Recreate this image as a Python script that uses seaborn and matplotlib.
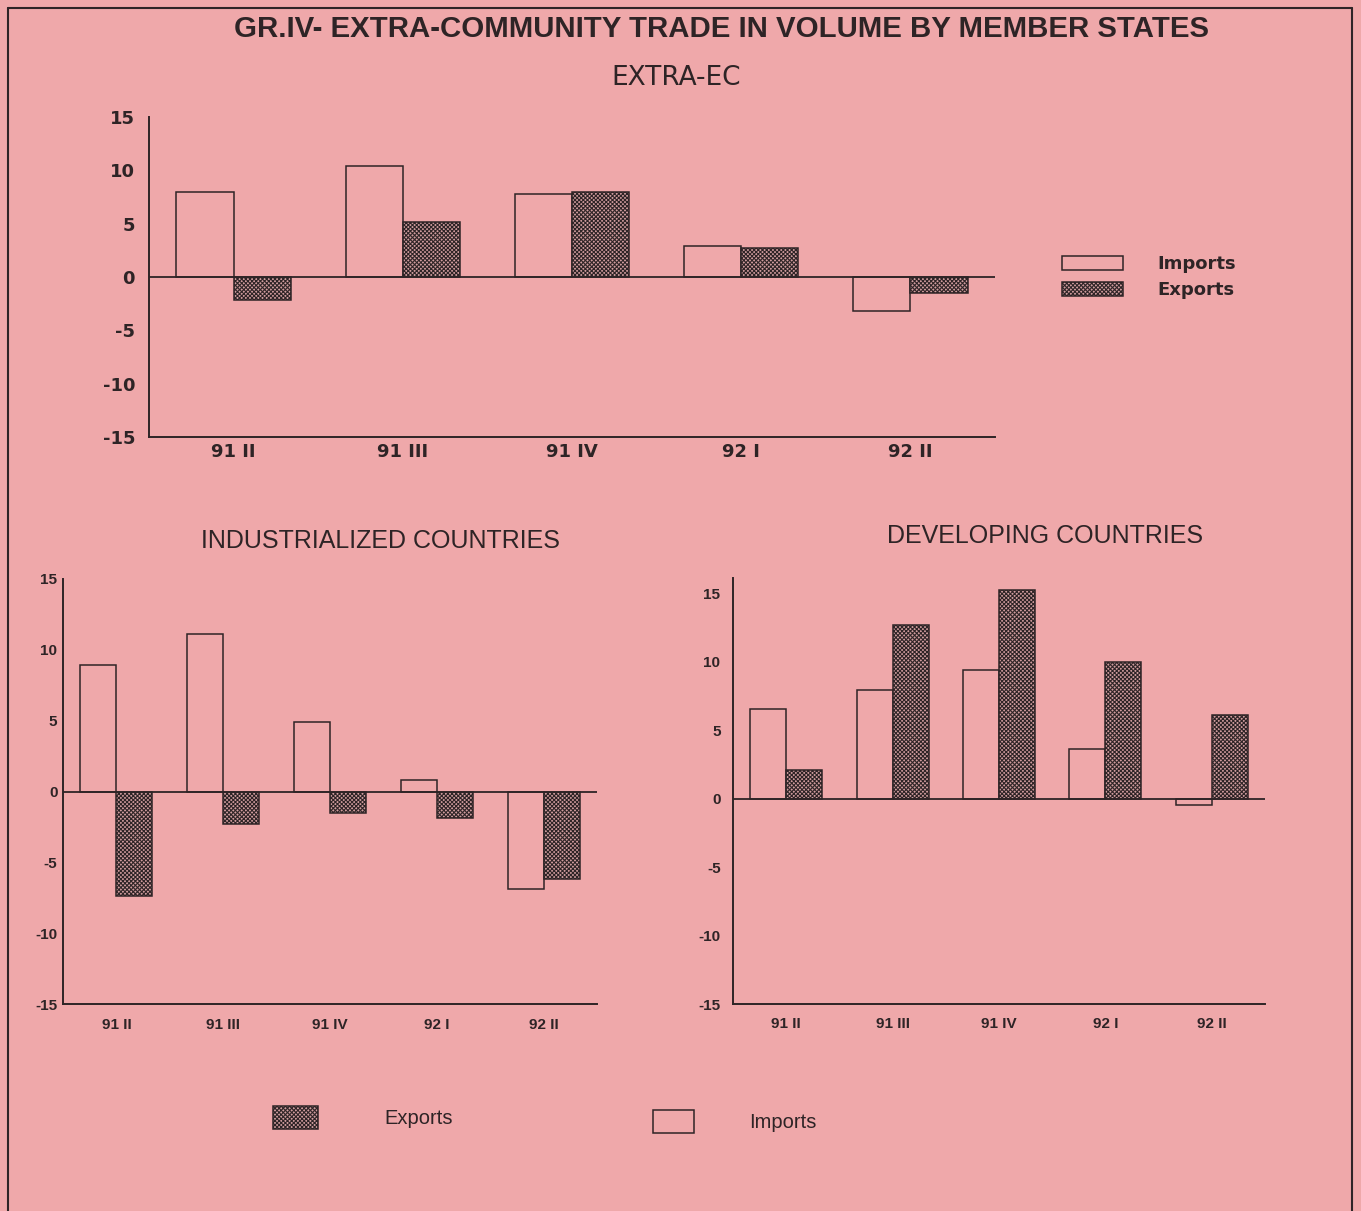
import numpy as np
import pandas as pd
import seaborn as sns
import matplotlib
matplotlib.use("Agg")
import matplotlib.pyplot as plt
from matplotlib.patches import Patch
from matplotlib.lines import Line2D

# ---------------- data ----------------
quarters = ['91 II', '91 III', '91 IV', '92 I', '92 II']
ec_imports = [8.0, 10.4, 7.8, 2.9, -3.2]
ec_exports = [-2.2, 5.2, 8.0, 2.7, -1.5]
ind_imports = [8.9, 11.1, 4.9, 0.8, -6.9]
ind_exports = [-7.4, -2.3, -1.5, -1.9, -6.2]
dev_imports = [6.5, 7.9, 9.4, 3.6, -0.5]
dev_exports = [2.1, 12.7, 15.2, 10.0, 6.1]
ytick_values = [-15, -10, -5, 0, 5, 10, 15]
series_names = ['Imports', 'Exports']

title_text = 'GR.IV- EXTRA-COMMUNITY TRADE IN VOLUME BY MEMBER STATES'
top_subtitle = 'EXTRA-EC'
left_subtitle = 'INDUSTRIALIZED COUNTRIES'
right_subtitle = 'DEVELOPING COUNTRIES'

# ---------------- style ----------------
sns.set_theme(style='white')
BG = '#efa8aa'
INK = '#2e2426'
HFACE = '#d09c9e'
HATCH = 'x' * 8
plt.rcParams['hatch.linewidth'] = 0.8
plt.rcParams['font.family'] = ['Liberation Sans', 'DejaVu Sans']

W, H = 1361, 1211
fig = plt.figure(figsize=(W / 100, H / 100), dpi=100, facecolor=BG)


def fx(px):
    return px / W


def fy(py):
    return 1 - py / H


def draw(ax, imports, exports, ylim, wide=False, xdir='in', ydir='in', xpad=5):
    df = pd.DataFrame({
        'quarter': quarters * 2,
        'value': list(imports) + list(exports),
        'series': [series_names[0]] * len(quarters) + [series_names[1]] * len(quarters),
    })
    sns.barplot(data=df, x='quarter', y='value', hue='series',
                hue_order=series_names, order=quarters,
                palette={'Imports': BG, 'Exports': HFACE},
                width=0.675, edgecolor=INK, linewidth=1.1, saturation=1,
                errorbar=None, legend=False, ax=ax)
    for bar in ax.containers[1]:
        bar.set_hatch(HATCH)
    ax.set_facecolor('none')
    ax.set_xlim(-0.5, 4.5)
    ax.set_ylim(*ylim)
    ax.axhline(0, color=INK, lw=1.3, zorder=5)
    for s in ['top', 'right']:
        ax.spines[s].set_visible(False)
    for s in ['left', 'bottom']:
        ax.spines[s].set_color(INK)
        ax.spines[s].set_linewidth(1.4)
    ax.set_xlabel('')
    ax.set_ylabel('')
    ax.set_yticks(ytick_values)
    if wide:
        font = dict(family='DejaVu Sans', weight='bold', size=13)
        ax.tick_params(axis='y', direction=ydir, length=8, width=1.2,
                       pad=10, colors=INK)
        ax.tick_params(axis='x', direction=xdir, length=7, width=1.2,
                       pad=4, colors=INK)
    else:
        font = dict(family='Liberation Sans', weight='bold', size=11)
        ax.tick_params(axis='y', direction=ydir, length=5, width=1.1,
                       pad=4, colors=INK)
        ax.tick_params(axis='x', direction=xdir, length=6, width=1.1,
                       pad=xpad, colors=INK)
    ax.set_yticklabels([str(v) for v in ytick_values], fontdict=font)
    ax.set_xticks(range(len(quarters)))
    ax.set_xticklabels(quarters, fontdict=font)


# top chart
ax_top = fig.add_axes([fx(149), fy(437), fx(995) - fx(149), fy(117) - fy(437)])
draw(ax_top, ec_imports, ec_exports, (-15, 15), wide=True, xdir='in', ydir='in')

# bottom-left chart
ax_bl = fig.add_axes([fx(63), fy(1004), fx(597) - fx(63), fy(579) - fy(1004)])
draw(ax_bl, ind_imports, ind_exports, (-15, 15), xdir='out', ydir='in', xpad=4)

# bottom-right chart
ax_br = fig.add_axes([fx(733), fy(1004), fx(1265) - fx(733), fy(578) - fy(1004)])
draw(ax_br, dev_imports, dev_exports, (-15, 16.1), xdir='in', ydir='out', xpad=9)

# texts
fig.text(fx(722), fy(29), title_text, ha='center', va='center',
         fontsize=21.2, weight='bold', color=INK, family='Liberation Sans')
fig.text(fx(676), fy(78), top_subtitle, ha='center', va='center',
         fontsize=19, color=INK, family='DejaVu Sans')
fig.text(fx(380), fy(541), left_subtitle, ha='center', va='center',
         fontsize=18, color=INK, family='Liberation Sans')
fig.text(fx(1045), fy(536), right_subtitle, ha='center', va='center',
         fontsize=18, color=INK, family='Liberation Sans')

imp_patch = Patch(facecolor=BG, edgecolor=INK, linewidth=1.1, label='Imports')
exp_patch = Patch(facecolor=HFACE, edgecolor=INK, linewidth=1.1, hatch=HATCH, label='Exports')

# top legend
fig.legend(handles=[imp_patch, exp_patch], loc='upper left',
           bbox_to_anchor=(fx(1062), fy(255)), frameon=False,
           borderpad=0, borderaxespad=0, handlelength=3.4, handleheight=0.8,
           handletextpad=1.9, labelspacing=0.45,
           prop=dict(family='DejaVu Sans', weight='bold', size=13),
           labelcolor=INK)

# bottom legend (two entries placed separately)
bottom_font = dict(family='Liberation Sans', size=14.5)
leg1 = fig.legend(handles=[exp_patch], loc='upper left',
                  bbox_to_anchor=(fx(273), fy(1106)), frameon=False,
                  borderpad=0, borderaxespad=0, handlelength=2.25, handleheight=1.4,
                  handletextpad=3.3, prop=bottom_font, labelcolor=INK)
leg2 = fig.legend(handles=[imp_patch], loc='upper left',
                  bbox_to_anchor=(fx(653), fy(1110)), frameon=False,
                  borderpad=0, borderaxespad=0, handlelength=2.05, handleheight=1.4,
                  handletextpad=2.7, prop=bottom_font, labelcolor=INK)

# page frame
fig.add_artist(Line2D([fx(8), fx(8)], [0, fy(8)], transform=fig.transFigure, color=INK, lw=1.5))
fig.add_artist(Line2D([fx(8), fx(1352)], [fy(8), fy(8)], transform=fig.transFigure, color=INK, lw=1.5))
fig.add_artist(Line2D([fx(1352), fx(1352)], [0, fy(8)], transform=fig.transFigure, color=INK, lw=1.5))

fig.savefig('out.png', dpi=100, facecolor=BG)
